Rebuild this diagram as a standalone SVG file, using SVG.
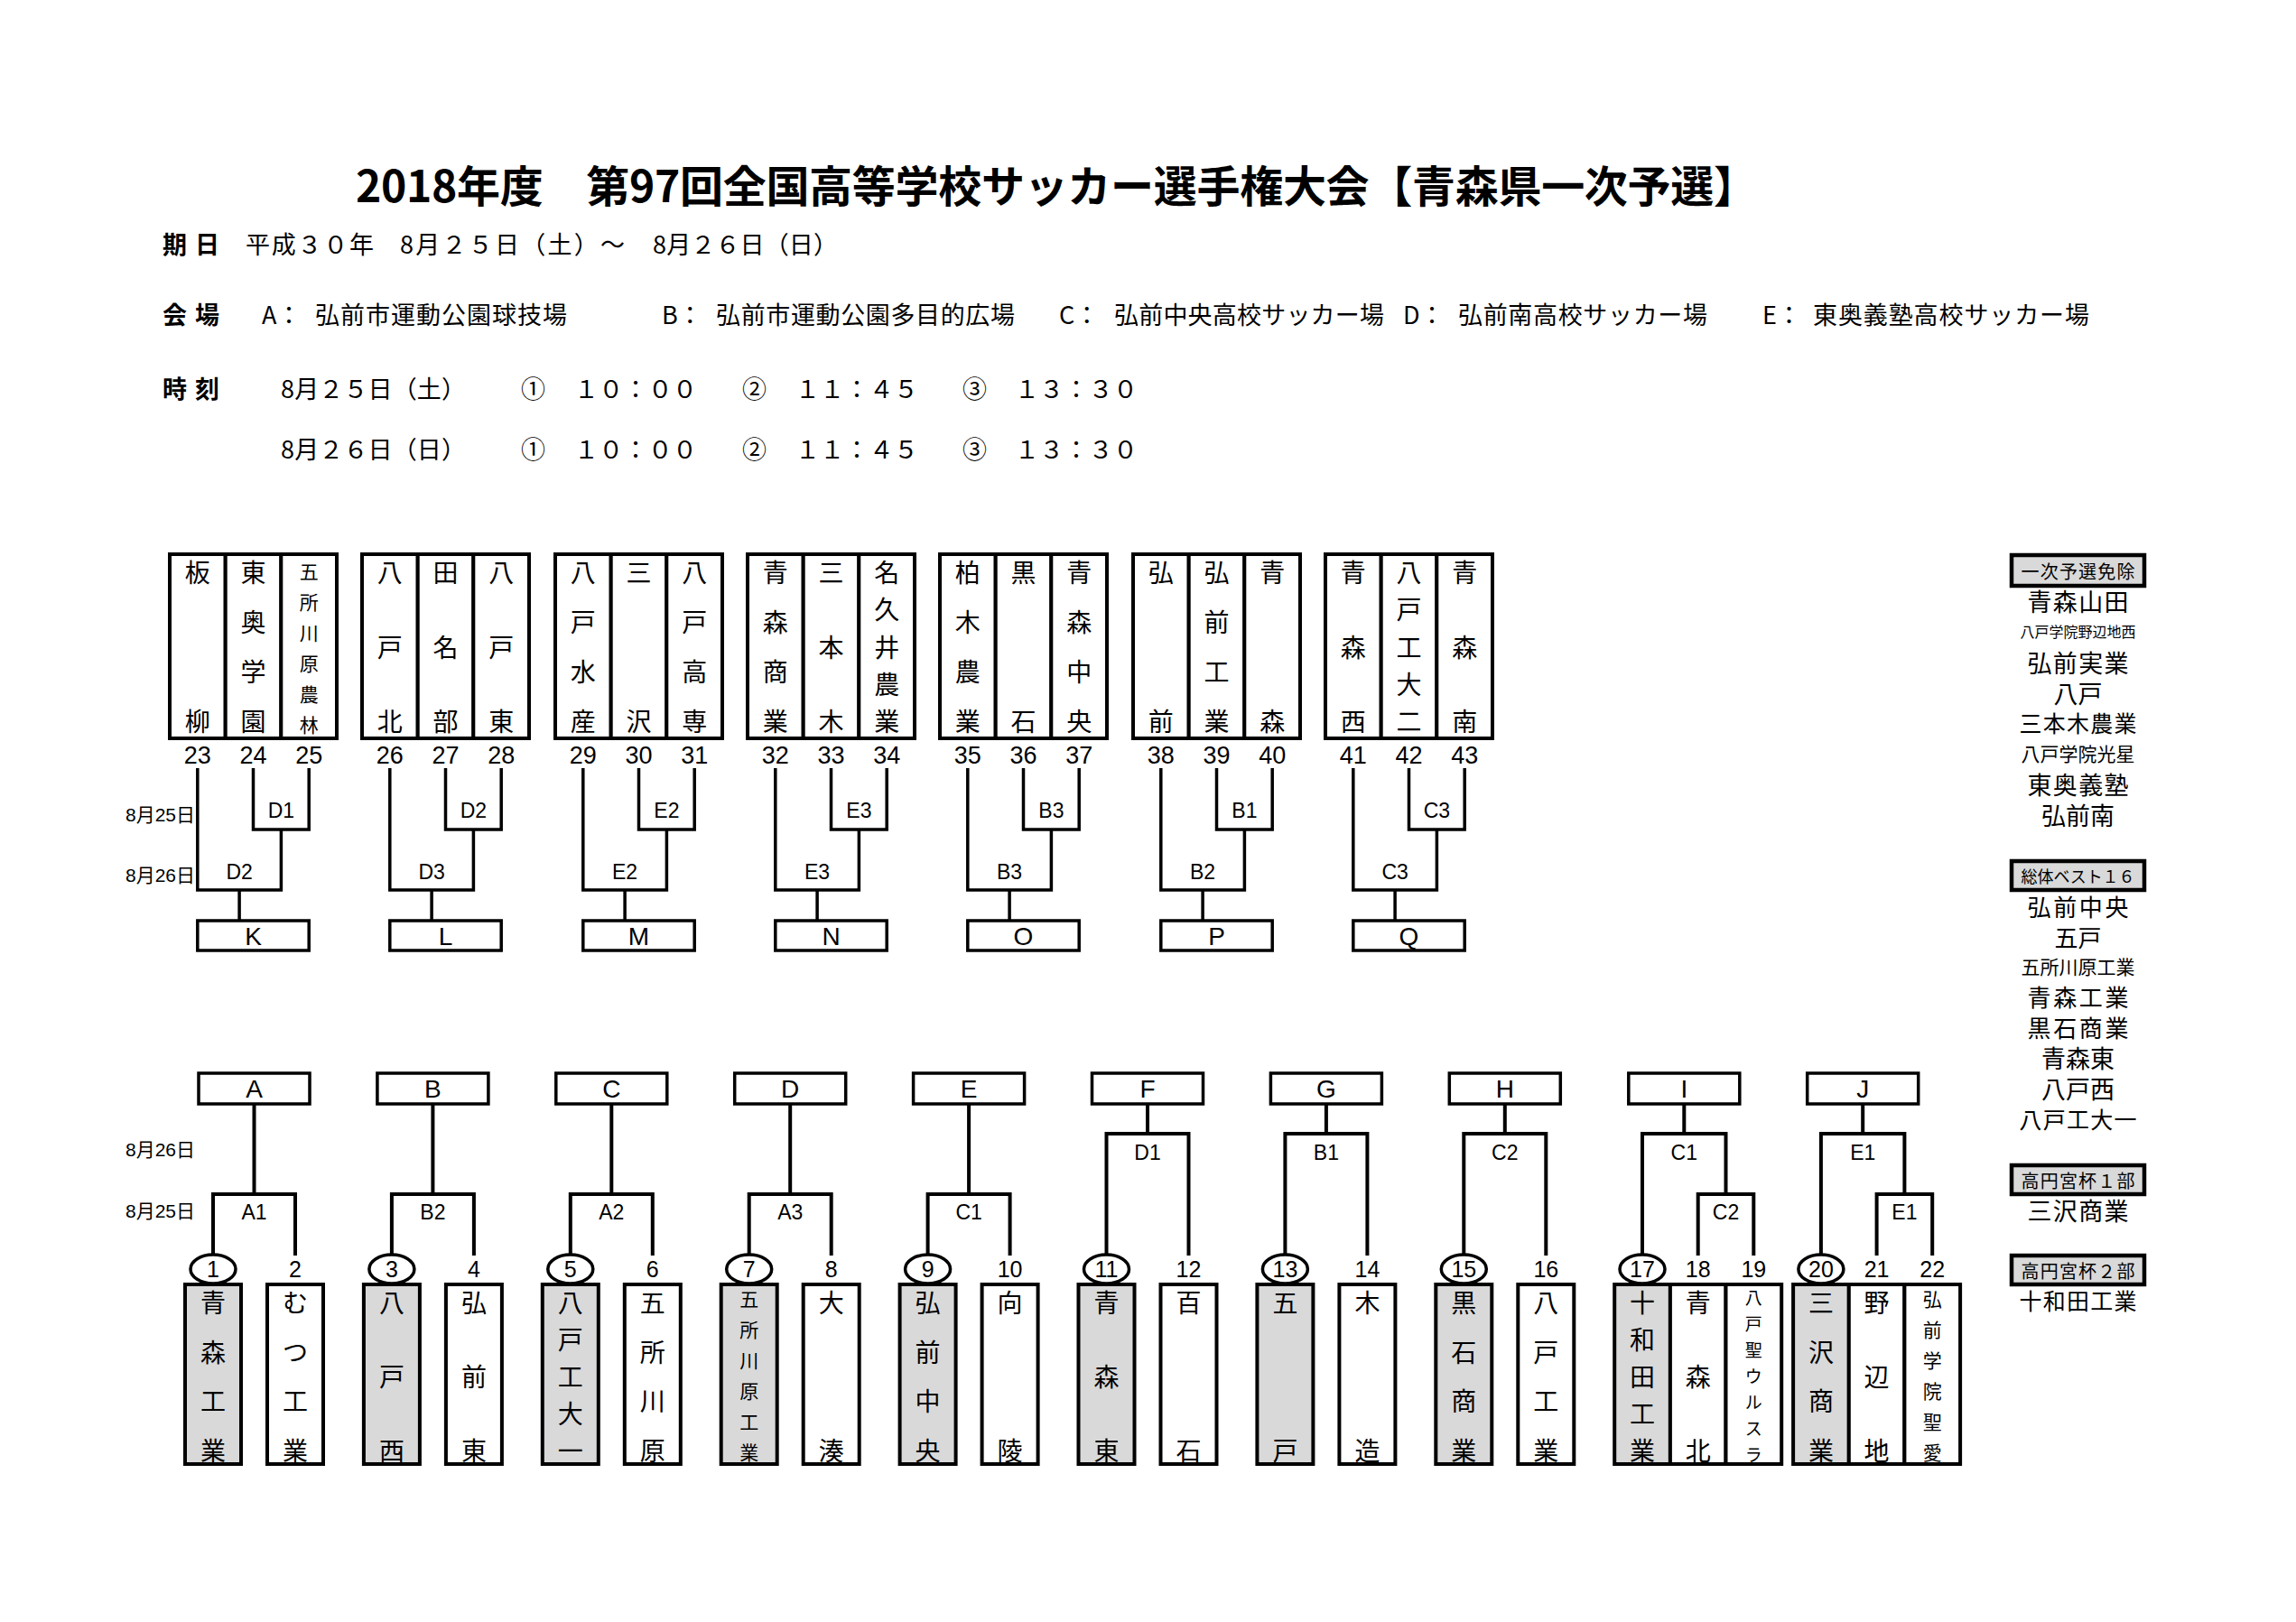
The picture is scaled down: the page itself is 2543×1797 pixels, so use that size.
<svg xmlns="http://www.w3.org/2000/svg" width="2543" height="1797" viewBox="0 0 2543 1797">
<style>
.bx{fill:#fff;stroke:#000;stroke-width:4}
.gy{fill:#d9d9d9;stroke:#000;stroke-width:4}
.lb{fill:#fff;stroke:#000;stroke-width:3.5}
.lg{fill:#d9d9d9;stroke:#000;stroke-width:4.5}
.ln{fill:none;stroke:#000;stroke-width:3.5}
.lnb{fill:none;stroke:#000;stroke-width:4}
.sd{fill:#fff;stroke:#000;stroke-width:3.5}
text{fill:#000}
.t{font-family:"Noto Sans CJK JP",sans-serif;text-anchor:middle;dominant-baseline:central}
.v{font-family:"Noto Sans CJK JP",sans-serif;font-size:28px;text-anchor:middle;dominant-baseline:central}
.vs{font-size:21px}
.vx{font-size:19px}
.n{font-family:"Liberation Sans",Arial,sans-serif;font-size:27px;text-anchor:middle;dominant-baseline:central}
.nb{font-size:25px}
.m{font-family:"Liberation Sans",Arial,sans-serif;font-size:23px;text-anchor:middle;dominant-baseline:central}
.L{font-family:"Liberation Sans",Arial,sans-serif;font-size:28px;text-anchor:middle;dominant-baseline:central}
.d{font-family:"Liberation Sans","Noto Sans CJK JP",sans-serif;font-size:21px;text-anchor:end;dominant-baseline:central}
.i{font-family:"Noto Sans CJK JP",sans-serif;font-size:27px;dominant-baseline:central}
.ib{font-weight:bold}
</style>
<rect width="2543" height="1797" fill="#fff"/>

<g id="header">
<text class="t" x="1170" y="203" font-size="48" font-weight="bold" textLength="1552" lengthAdjust="spacing">2018年度　第97回全国高等学校サッカー選手権大会【青森県一次予選】</text>
<text class="i ib" x="180" y="269" textLength="63" lengthAdjust="spacing">期 日</text>
<text class="i" x="272" y="269" textLength="142" lengthAdjust="spacing">平成３０年</text>
<text class="i" x="443" y="269" textLength="249" lengthAdjust="spacing">8月２５日（土）～</text>
<text class="i" x="723" y="269" textLength="205" lengthAdjust="spacing">8月２６日（日）</text>
<text class="i ib" x="180" y="347" textLength="63" lengthAdjust="spacing">会 場</text>
<text class="i" x="290" y="347">A：</text>
<text class="i" x="349" y="347" textLength="279" lengthAdjust="spacing">弘前市運動公園球技場</text>
<text class="i" x="733" y="347">B：</text>
<text class="i" x="793" y="347" textLength="331" lengthAdjust="spacing">弘前市運動公園多目的広場</text>
<text class="i" x="1173" y="347">C：</text>
<text class="i" x="1234" y="347" textLength="299" lengthAdjust="spacing">弘前中央高校サッカー場</text>
<text class="i" x="1554" y="347">D：</text>
<text class="i" x="1615" y="347" textLength="276" lengthAdjust="spacing">弘前南高校サッカー場</text>
<text class="i" x="1952" y="347">E：</text>
<text class="i" x="2008" y="347" textLength="306" lengthAdjust="spacing">東奥義塾高校サッカー場</text>
<text class="i ib" x="180" y="429" textLength="63" lengthAdjust="spacing">時 刻</text>
<text class="i" x="311" y="429" textLength="205" lengthAdjust="spacing">8月２５日（土）</text>
<text class="i" x="577" y="429">①</text>
<text class="i" x="636" y="429" textLength="136" lengthAdjust="spacing">１０：００</text>
<text class="i" x="822" y="429">②</text>
<text class="i" x="881" y="429" textLength="136" lengthAdjust="spacing">１１：４５</text>
<text class="i" x="1066" y="429">③</text>
<text class="i" x="1124" y="429" textLength="136" lengthAdjust="spacing">１３：３０</text>
<text class="i" x="311" y="496" textLength="205" lengthAdjust="spacing">8月２６日（日）</text>
<text class="i" x="577" y="496">①</text>
<text class="i" x="636" y="496" textLength="136" lengthAdjust="spacing">１０：００</text>
<text class="i" x="822" y="496">②</text>
<text class="i" x="881" y="496" textLength="136" lengthAdjust="spacing">１１：４５</text>
<text class="i" x="1066" y="496">③</text>
<text class="i" x="1124" y="496" textLength="136" lengthAdjust="spacing">１３：３０</text>
</g>

<g id="date-labels">
<text class="d" x="216" y="902">8月25日</text>
<text class="d" x="216" y="969">8月26日</text>
<text class="d" x="216" y="1273">8月26日</text>
<text class="d" x="216" y="1341">8月25日</text>
</g>

<g id="connectors">
<path class="ln" d="M218.8 851V986H311.4V919M280.5 851V919H342.2V851M265.1 986V1020"/>
<path class="ln" d="M431.8 851V986H524.4V919M493.5 851V919H555.2V851M478.1 986V1020"/>
<path class="ln" d="M645.8 851V986H738.4V919M707.5 851V919H769.2V851M692.1 986V1020"/>
<path class="ln" d="M858.8 851V986H951.4V919M920.5 851V919H982.2V851M905.1 986V1020"/>
<path class="ln" d="M1071.8 851V986H1164.4V919M1133.5 851V919H1195.2V851M1118.1 986V1020"/>
<path class="ln" d="M1285.8 851V986H1378.4V919M1347.5 851V919H1409.2V851M1332.1 986V1020"/>
<path class="ln" d="M1498.8 851V986H1591.4V919M1560.5 851V919H1622.2V851M1545.1 986V1020"/>
<path class="lnb" d="M236 1400V1323H327V1391M281.5 1323V1223"/>
<path class="lnb" d="M433.9 1400V1323H524.9V1391M479.4 1323V1223"/>
<path class="lnb" d="M631.8 1400V1323H722.8V1391M677.3 1323V1223"/>
<path class="lnb" d="M829.7 1400V1323H920.7V1391M875.2 1323V1223"/>
<path class="lnb" d="M1027.6 1400V1323H1118.6V1391M1073.1 1323V1223"/>
<path class="lnb" d="M1225.5 1400V1256H1316.5V1391M1271 1256V1223"/>
<path class="lnb" d="M1423.4 1400V1256H1514.4V1391M1468.9 1256V1223"/>
<path class="lnb" d="M1621.3 1400V1256H1712.3V1391M1666.8 1256V1223"/>
<path class="lnb" d="M1819 1400V1256H1911.5V1323M1880.7 1391V1323H1942.3V1391M1865.3 1256V1223"/>
<path class="lnb" d="M2016.9 1400V1256H2109.4V1323M2078.6 1391V1323H2140.2V1391M2063.2 1256V1223"/>
<g id="match-labels">
<text class="m" x="311.4" y="898">D1</text><text class="m" x="265.1" y="966">D2</text>
<text class="m" x="524.4" y="898">D2</text><text class="m" x="478.1" y="966">D3</text>
<text class="m" x="738.4" y="898">E2</text><text class="m" x="692.1" y="966">E2</text>
<text class="m" x="951.4" y="898">E3</text><text class="m" x="905.1" y="966">E3</text>
<text class="m" x="1164.4" y="898">B3</text><text class="m" x="1118.1" y="966">B3</text>
<text class="m" x="1378.4" y="898">B1</text><text class="m" x="1332.1" y="966">B2</text>
<text class="m" x="1591.4" y="898">C3</text><text class="m" x="1545.1" y="966">C3</text>
<text class="m" x="281.5" y="1343">A1</text>
<text class="m" x="479.4" y="1343">B2</text>
<text class="m" x="677.3" y="1343">A2</text>
<text class="m" x="875.2" y="1343">A3</text>
<text class="m" x="1073.1" y="1343">C1</text>
<text class="m" x="1271" y="1277">D1</text>
<text class="m" x="1468.9" y="1277">B1</text>
<text class="m" x="1666.8" y="1277">C2</text>
<text class="m" x="1865.3" y="1277">C1</text>
<text class="m" x="1911.5" y="1343">C2</text>
<text class="m" x="2063.2" y="1277">E1</text>
<text class="m" x="2109.4" y="1343" font-size="26">E1</text>
</g>
</g>

<!-- top teams -->
<g id="t23"><rect class="bx" x="188" y="614" width="61.7" height="204"/><text class="v"><tspan x="218.8" y="633">板</tspan><tspan x="218.8" y="798">柳</tspan></text><text class="n" x="218.8" y="837">23</text></g>
<g id="t24"><rect class="bx" x="249.7" y="614" width="61.7" height="204"/><text class="v"><tspan x="280.5" y="633">東</tspan><tspan x="280.5" y="688">奥</tspan><tspan x="280.5" y="743">学</tspan><tspan x="280.5" y="798">園</tspan></text><text class="n" x="280.5" y="837">24</text></g>
<g id="t25"><rect class="bx" x="311.3" y="614" width="61.7" height="204"/><text class="v vs"><tspan x="342.2" y="632">五</tspan><tspan x="342.2" y="666">所</tspan><tspan x="342.2" y="700">川</tspan><tspan x="342.2" y="734">原</tspan><tspan x="342.2" y="768">農</tspan><tspan x="342.2" y="802">林</tspan></text><text class="n" x="342.2" y="837">25</text></g>

<g id="t26"><rect class="bx" x="401" y="614" width="61.7" height="204"/><text class="v"><tspan x="431.8" y="633">八</tspan><tspan x="431.8" y="715.5">戸</tspan><tspan x="431.8" y="798">北</tspan></text><text class="n" x="431.8" y="837">26</text></g>
<g id="t27"><rect class="bx" x="462.7" y="614" width="61.7" height="204"/><text class="v"><tspan x="493.5" y="633">田</tspan><tspan x="493.5" y="715.5">名</tspan><tspan x="493.5" y="798">部</tspan></text><text class="n" x="493.5" y="837">27</text></g>
<g id="t28"><rect class="bx" x="524.3" y="614" width="61.7" height="204"/><text class="v"><tspan x="555.2" y="633">八</tspan><tspan x="555.2" y="715.5">戸</tspan><tspan x="555.2" y="798">東</tspan></text><text class="n" x="555.2" y="837">28</text></g>

<g id="t29"><rect class="bx" x="615" y="614" width="61.7" height="204"/><text class="v"><tspan x="645.8" y="633">八</tspan><tspan x="645.8" y="688">戸</tspan><tspan x="645.8" y="743">水</tspan><tspan x="645.8" y="798">産</tspan></text><text class="n" x="645.8" y="837">29</text></g>
<g id="t30"><rect class="bx" x="676.7" y="614" width="61.7" height="204"/><text class="v"><tspan x="707.5" y="633">三</tspan><tspan x="707.5" y="798">沢</tspan></text><text class="n" x="707.5" y="837">30</text></g>
<g id="t31"><rect class="bx" x="738.3" y="614" width="61.7" height="204"/><text class="v"><tspan x="769.2" y="633">八</tspan><tspan x="769.2" y="688">戸</tspan><tspan x="769.2" y="743">高</tspan><tspan x="769.2" y="798">専</tspan></text><text class="n" x="769.2" y="837">31</text></g>

<g id="t32"><rect class="bx" x="828" y="614" width="61.7" height="204"/><text class="v"><tspan x="858.8" y="633">青</tspan><tspan x="858.8" y="688">森</tspan><tspan x="858.8" y="743">商</tspan><tspan x="858.8" y="798">業</tspan></text><text class="n" x="858.8" y="837">32</text></g>
<g id="t33"><rect class="bx" x="889.7" y="614" width="61.7" height="204"/><text class="v"><tspan x="920.5" y="633">三</tspan><tspan x="920.5" y="715.5">本</tspan><tspan x="920.5" y="798">木</tspan></text><text class="n" x="920.5" y="837">33</text></g>
<g id="t34"><rect class="bx" x="951.3" y="614" width="61.7" height="204"/><text class="v"><tspan x="982.2" y="633">名</tspan><tspan x="982.2" y="674.3">久</tspan><tspan x="982.2" y="715.5">井</tspan><tspan x="982.2" y="756.8">農</tspan><tspan x="982.2" y="798">業</tspan></text><text class="n" x="982.2" y="837">34</text></g>

<g id="t35"><rect class="bx" x="1041" y="614" width="61.7" height="204"/><text class="v"><tspan x="1071.8" y="633">柏</tspan><tspan x="1071.8" y="688">木</tspan><tspan x="1071.8" y="743">農</tspan><tspan x="1071.8" y="798">業</tspan></text><text class="n" x="1071.8" y="837">35</text></g>
<g id="t36"><rect class="bx" x="1102.7" y="614" width="61.7" height="204"/><text class="v"><tspan x="1133.5" y="633">黒</tspan><tspan x="1133.5" y="798">石</tspan></text><text class="n" x="1133.5" y="837">36</text></g>
<g id="t37"><rect class="bx" x="1164.3" y="614" width="61.7" height="204"/><text class="v"><tspan x="1195.2" y="633">青</tspan><tspan x="1195.2" y="688">森</tspan><tspan x="1195.2" y="743">中</tspan><tspan x="1195.2" y="798">央</tspan></text><text class="n" x="1195.2" y="837">37</text></g>

<g id="t38"><rect class="bx" x="1255" y="614" width="61.7" height="204"/><text class="v"><tspan x="1285.8" y="633">弘</tspan><tspan x="1285.8" y="798">前</tspan></text><text class="n" x="1285.8" y="837">38</text></g>
<g id="t39"><rect class="bx" x="1316.7" y="614" width="61.7" height="204"/><text class="v"><tspan x="1347.5" y="633">弘</tspan><tspan x="1347.5" y="688">前</tspan><tspan x="1347.5" y="743">工</tspan><tspan x="1347.5" y="798">業</tspan></text><text class="n" x="1347.5" y="837">39</text></g>
<g id="t40"><rect class="bx" x="1378.3" y="614" width="61.7" height="204"/><text class="v"><tspan x="1409.2" y="633">青</tspan><tspan x="1409.2" y="798">森</tspan></text><text class="n" x="1409.2" y="837">40</text></g>

<g id="t41"><rect class="bx" x="1468" y="614" width="61.7" height="204"/><text class="v"><tspan x="1498.8" y="633">青</tspan><tspan x="1498.8" y="715.5">森</tspan><tspan x="1498.8" y="798">西</tspan></text><text class="n" x="1498.8" y="837">41</text></g>
<g id="t42"><rect class="bx" x="1529.7" y="614" width="61.7" height="204"/><text class="v"><tspan x="1560.5" y="633">八</tspan><tspan x="1560.5" y="674.3">戸</tspan><tspan x="1560.5" y="715.5">工</tspan><tspan x="1560.5" y="756.8">大</tspan><tspan x="1560.5" y="798">二</tspan></text><text class="n" x="1560.5" y="837">42</text></g>
<g id="t43"><rect class="bx" x="1591.3" y="614" width="61.7" height="204"/><text class="v"><tspan x="1622.2" y="633">青</tspan><tspan x="1622.2" y="715.5">森</tspan><tspan x="1622.2" y="798">南</tspan></text><text class="n" x="1622.2" y="837">43</text></g>

<!-- top winner boxes -->
<g id="wK"><rect class="lb" x="218.8" y="1020" width="123.4" height="33"/><text class="L" x="280.5" y="1037">K</text></g>
<g id="wL"><rect class="lb" x="431.8" y="1020" width="123.4" height="33"/><text class="L" x="493.5" y="1037">L</text></g>
<g id="wM"><rect class="lb" x="645.8" y="1020" width="123.4" height="33"/><text class="L" x="707.5" y="1037">M</text></g>
<g id="wN"><rect class="lb" x="858.8" y="1020" width="123.4" height="33"/><text class="L" x="920.5" y="1037">N</text></g>
<g id="wO"><rect class="lb" x="1071.8" y="1020" width="123.4" height="33"/><text class="L" x="1133.5" y="1037">O</text></g>
<g id="wP"><rect class="lb" x="1285.8" y="1020" width="123.4" height="33"/><text class="L" x="1347.5" y="1037">P</text></g>
<g id="wQ"><rect class="lb" x="1498.8" y="1020" width="123.4" height="33"/><text class="L" x="1560.5" y="1037">Q</text></g>

<!-- bottom winner boxes -->
<g id="wA"><rect class="lb" x="220" y="1189" width="123" height="34"/><text class="L" x="281.5" y="1206">A</text></g>
<g id="wB"><rect class="lb" x="417.9" y="1189" width="123" height="34"/><text class="L" x="479.4" y="1206">B</text></g>
<g id="wC"><rect class="lb" x="615.8" y="1189" width="123" height="34"/><text class="L" x="677.3" y="1206">C</text></g>
<g id="wD"><rect class="lb" x="813.7" y="1189" width="123" height="34"/><text class="L" x="875.2" y="1206">D</text></g>
<g id="wE"><rect class="lb" x="1011.6" y="1189" width="123" height="34"/><text class="L" x="1073.1" y="1206">E</text></g>
<g id="wF"><rect class="lb" x="1209.5" y="1189" width="123" height="34"/><text class="L" x="1271" y="1206">F</text></g>
<g id="wG"><rect class="lb" x="1407.4" y="1189" width="123" height="34"/><text class="L" x="1468.9" y="1206">G</text></g>
<g id="wH"><rect class="lb" x="1605.3" y="1189" width="123" height="34"/><text class="L" x="1666.8" y="1206">H</text></g>
<g id="wI"><rect class="lb" x="1803.8" y="1189" width="123" height="34"/><text class="L" x="1865.3" y="1206">I</text></g>
<g id="wJ"><rect class="lb" x="2001.7" y="1189" width="123" height="34"/><text class="L" x="2063.2" y="1206">J</text></g>

<!-- bottom teams -->
<g id="t1"><rect class="gy" x="205" y="1423" width="62" height="199"/><text class="v"><tspan x="236" y="1442">青</tspan><tspan x="236" y="1496.7">森</tspan><tspan x="236" y="1551.3">工</tspan><tspan x="236" y="1606">業</tspan></text><ellipse class="sd" cx="236" cy="1406" rx="25" ry="16"/><text class="n nb" x="236" y="1406">1</text></g>
<g id="t2"><rect class="bx" x="296" y="1423" width="62" height="199"/><text class="v"><tspan x="327" y="1442">む</tspan><tspan x="327" y="1496.7">つ</tspan><tspan x="327" y="1551.3">工</tspan><tspan x="327" y="1606">業</tspan></text><text class="n nb" x="327" y="1406">2</text></g>
<g id="t3"><rect class="gy" x="402.9" y="1423" width="62" height="199"/><text class="v"><tspan x="433.9" y="1442">八</tspan><tspan x="433.9" y="1524">戸</tspan><tspan x="433.9" y="1606">西</tspan></text><ellipse class="sd" cx="433.9" cy="1406" rx="25" ry="16"/><text class="n nb" x="433.9" y="1406">3</text></g>
<g id="t4"><rect class="bx" x="493.9" y="1423" width="62" height="199"/><text class="v"><tspan x="524.9" y="1442">弘</tspan><tspan x="524.9" y="1524">前</tspan><tspan x="524.9" y="1606">東</tspan></text><text class="n nb" x="524.9" y="1406">4</text></g>
<g id="t5"><rect class="gy" x="600.8" y="1423" width="62" height="199"/><text class="v"><tspan x="631.8" y="1442">八</tspan><tspan x="631.8" y="1483">戸</tspan><tspan x="631.8" y="1524">工</tspan><tspan x="631.8" y="1565">大</tspan><tspan x="631.8" y="1606">一</tspan></text><ellipse class="sd" cx="631.8" cy="1406" rx="25" ry="16"/><text class="n nb" x="631.8" y="1406">5</text></g>
<g id="t6"><rect class="bx" x="691.8" y="1423" width="62" height="199"/><text class="v"><tspan x="722.8" y="1442">五</tspan><tspan x="722.8" y="1496.7">所</tspan><tspan x="722.8" y="1551.3">川</tspan><tspan x="722.8" y="1606">原</tspan></text><text class="n nb" x="722.8" y="1406">6</text></g>
<g id="t7"><rect class="gy" x="798.7" y="1423" width="62" height="199"/><text class="v vs"><tspan x="829.7" y="1438">五</tspan><tspan x="829.7" y="1472">所</tspan><tspan x="829.7" y="1506">川</tspan><tspan x="829.7" y="1540">原</tspan><tspan x="829.7" y="1574">工</tspan><tspan x="829.7" y="1608">業</tspan></text><ellipse class="sd" cx="829.7" cy="1406" rx="25" ry="16"/><text class="n nb" x="829.7" y="1406">7</text></g>
<g id="t8"><rect class="bx" x="889.7" y="1423" width="62" height="199"/><text class="v"><tspan x="920.7" y="1442">大</tspan><tspan x="920.7" y="1606">湊</tspan></text><text class="n nb" x="920.7" y="1406">8</text></g>
<g id="t9"><rect class="gy" x="996.6" y="1423" width="62" height="199"/><text class="v"><tspan x="1027.6" y="1442">弘</tspan><tspan x="1027.6" y="1496.7">前</tspan><tspan x="1027.6" y="1551.3">中</tspan><tspan x="1027.6" y="1606">央</tspan></text><ellipse class="sd" cx="1027.6" cy="1406" rx="25" ry="16"/><text class="n nb" x="1027.6" y="1406">9</text></g>
<g id="t10"><rect class="bx" x="1087.6" y="1423" width="62" height="199"/><text class="v"><tspan x="1118.6" y="1442">向</tspan><tspan x="1118.6" y="1606">陵</tspan></text><text class="n nb" x="1118.6" y="1406">10</text></g>
<g id="t11"><rect class="gy" x="1194.5" y="1423" width="62" height="199"/><text class="v"><tspan x="1225.5" y="1442">青</tspan><tspan x="1225.5" y="1524">森</tspan><tspan x="1225.5" y="1606">東</tspan></text><ellipse class="sd" cx="1225.5" cy="1406" rx="25" ry="16"/><text class="n nb" x="1225.5" y="1406">11</text></g>
<g id="t12"><rect class="bx" x="1285.5" y="1423" width="62" height="199"/><text class="v"><tspan x="1316.5" y="1442">百</tspan><tspan x="1316.5" y="1606">石</tspan></text><text class="n nb" x="1316.5" y="1406">12</text></g>
<g id="t13"><rect class="gy" x="1392.4" y="1423" width="62" height="199"/><text class="v"><tspan x="1423.4" y="1442">五</tspan><tspan x="1423.4" y="1606">戸</tspan></text><ellipse class="sd" cx="1423.4" cy="1406" rx="25" ry="16"/><text class="n nb" x="1423.4" y="1406">13</text></g>
<g id="t14"><rect class="bx" x="1483.4" y="1423" width="62" height="199"/><text class="v"><tspan x="1514.4" y="1442">木</tspan><tspan x="1514.4" y="1606">造</tspan></text><text class="n nb" x="1514.4" y="1406">14</text></g>
<g id="t15"><rect class="gy" x="1590.3" y="1423" width="62" height="199"/><text class="v"><tspan x="1621.3" y="1442">黒</tspan><tspan x="1621.3" y="1496.7">石</tspan><tspan x="1621.3" y="1551.3">商</tspan><tspan x="1621.3" y="1606">業</tspan></text><ellipse class="sd" cx="1621.3" cy="1406" rx="25" ry="16"/><text class="n nb" x="1621.3" y="1406">15</text></g>
<g id="t16"><rect class="bx" x="1681.3" y="1423" width="62" height="199"/><text class="v"><tspan x="1712.3" y="1442">八</tspan><tspan x="1712.3" y="1496.7">戸</tspan><tspan x="1712.3" y="1551.3">工</tspan><tspan x="1712.3" y="1606">業</tspan></text><text class="n nb" x="1712.3" y="1406">16</text></g>
<g id="t17"><rect class="gy" x="1788.2" y="1423" width="61.7" height="199"/><text class="v"><tspan x="1819" y="1442">十</tspan><tspan x="1819" y="1483">和</tspan><tspan x="1819" y="1524">田</tspan><tspan x="1819" y="1565">工</tspan><tspan x="1819" y="1606">業</tspan></text><ellipse class="sd" cx="1819" cy="1406" rx="25" ry="16"/><text class="n nb" x="1819" y="1406">17</text></g>
<g id="t18"><rect class="bx" x="1849.9" y="1423" width="61.6" height="199"/><text class="v"><tspan x="1880.7" y="1442">青</tspan><tspan x="1880.7" y="1524">森</tspan><tspan x="1880.7" y="1606">北</tspan></text><text class="n nb" x="1880.7" y="1406">18</text></g>
<g id="t19"><rect class="bx" x="1911.5" y="1423" width="61.7" height="199"/><text class="v vx"><tspan x="1942.3" y="1436">八</tspan><tspan x="1942.3" y="1465">戸</tspan><tspan x="1942.3" y="1494">聖</tspan><tspan x="1942.3" y="1523">ウ</tspan><tspan x="1942.3" y="1552">ル</tspan><tspan x="1942.3" y="1581">ス</tspan><tspan x="1942.3" y="1610">ラ</tspan></text><text class="n nb" x="1942.3" y="1406">19</text></g>
<g id="t20"><rect class="gy" x="1986.1" y="1423" width="61.7" height="199"/><text class="v"><tspan x="2016.9" y="1442">三</tspan><tspan x="2016.9" y="1496.7">沢</tspan><tspan x="2016.9" y="1551.3">商</tspan><tspan x="2016.9" y="1606">業</tspan></text><ellipse class="sd" cx="2016.9" cy="1406" rx="25" ry="16"/><text class="n nb" x="2016.9" y="1406">20</text></g>
<g id="t21"><rect class="bx" x="2047.8" y="1423" width="61.6" height="199"/><text class="v"><tspan x="2078.6" y="1442">野</tspan><tspan x="2078.6" y="1524">辺</tspan><tspan x="2078.6" y="1606">地</tspan></text><text class="n nb" x="2078.6" y="1406">21</text></g>
<g id="t22"><rect class="bx" x="2109.4" y="1423" width="61.7" height="199"/><text class="v vs"><tspan x="2140.2" y="1438">弘</tspan><tspan x="2140.2" y="1472">前</tspan><tspan x="2140.2" y="1506">学</tspan><tspan x="2140.2" y="1540">院</tspan><tspan x="2140.2" y="1574">聖</tspan><tspan x="2140.2" y="1608">愛</tspan></text><text class="n nb" x="2140.2" y="1406">22</text></g>

<!-- legend -->
<g id="legend-exempt">
<rect class="lg" x="2228" y="615" width="147" height="34"/>
<text class="t" x="2301.5" y="632" font-size="20" textLength="126" lengthAdjust="spacing">一次予選免除</text>
<text class="t" x="2301.5" y="665" font-size="27" textLength="112" lengthAdjust="spacing">青森山田</text>
<text class="t" x="2301.5" y="699" font-size="16">八戸学院野辺地西</text>
<text class="t" x="2301.5" y="733" font-size="27" textLength="112" lengthAdjust="spacing">弘前実業</text>
<text class="t" x="2301.5" y="767" font-size="27">八戸</text>
<text class="t" x="2301.5" y="800" font-size="25" textLength="130" lengthAdjust="spacing">三本木農業</text>
<text class="t" x="2301.5" y="834" font-size="21">八戸学院光星</text>
<text class="t" x="2301.5" y="868" font-size="27" textLength="112" lengthAdjust="spacing">東奥義塾</text>
<text class="t" x="2301.5" y="902" font-size="27">弘前南</text>
</g>
<g id="legend-best16">
<rect class="lg" x="2228" y="954" width="147" height="32"/>
<text class="t" x="2301.5" y="970" font-size="18" textLength="126" lengthAdjust="spacing">総体ベスト１６</text>
<text class="t" x="2301.5" y="1003" font-size="26" textLength="112" lengthAdjust="spacing">弘前中央</text>
<text class="t" x="2301.5" y="1037" font-size="26">五戸</text>
<text class="t" x="2301.5" y="1070" font-size="21">五所川原工業</text>
<text class="t" x="2301.5" y="1103" font-size="26" textLength="112" lengthAdjust="spacing">青森工業</text>
<text class="t" x="2301.5" y="1137" font-size="26" textLength="112" lengthAdjust="spacing">黒石商業</text>
<text class="t" x="2301.5" y="1171" font-size="27">青森東</text>
<text class="t" x="2301.5" y="1205" font-size="27">八戸西</text>
<text class="t" x="2301.5" y="1239" font-size="25" textLength="130" lengthAdjust="spacing">八戸工大一</text>
</g>
<g id="legend-prince1">
<rect class="lg" x="2228" y="1291" width="147" height="32"/>
<text class="t" x="2301.5" y="1307" font-size="20" textLength="126" lengthAdjust="spacing">高円宮杯１部</text>
<text class="t" x="2301.5" y="1340" font-size="27" textLength="112" lengthAdjust="spacing">三沢商業</text>
</g>
<g id="legend-prince2">
<rect class="lg" x="2228" y="1391" width="147" height="32"/>
<text class="t" x="2301.5" y="1407" font-size="20" textLength="126" lengthAdjust="spacing">高円宮杯２部</text>
<text class="t" x="2301.5" y="1440" font-size="25" textLength="130" lengthAdjust="spacing">十和田工業</text>
</g>
</svg>
